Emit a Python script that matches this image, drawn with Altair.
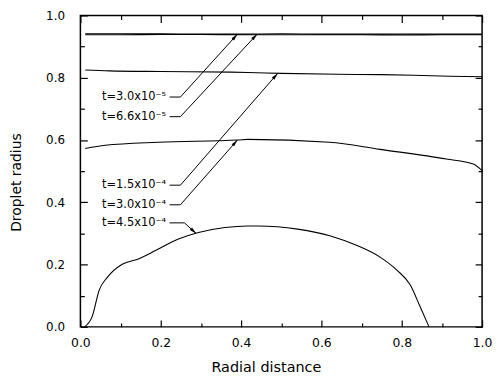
import math
import altair as alt
import pandas as pd

# ---------------- data ----------------
x_t1 = [0.012, 0.1, 0.2, 0.3, 0.4, 0.5, 0.6, 0.7, 0.8, 0.9, 1.0]
y_t1 = [0.941, 0.941, 0.941, 0.940, 0.940, 0.941, 0.940, 0.940, 0.940, 0.940, 0.940]   # t=3.0x10^-5

x_t2 = [0.012, 0.1, 0.2, 0.3, 0.4, 0.5, 0.6, 0.7, 0.8, 0.9, 1.0]
y_t2 = [0.938, 0.938, 0.939, 0.939, 0.938, 0.938, 0.938, 0.938, 0.937, 0.938, 0.938]   # t=6.6x10^-5

x_t3 = [0.012, 0.072, 0.2, 0.375, 0.417, 0.5, 0.64, 0.75, 0.829, 0.92, 1.0]
y_t3 = [0.825, 0.822, 0.820, 0.818, 0.817, 0.814, 0.811, 0.810, 0.808, 0.805, 0.803]   # t=1.5x10^-4

x_t4 = [0.012, 0.062, 0.195, 0.393, 0.417, 0.62, 0.746, 0.911, 0.978, 1.0]
y_t4 = [0.573, 0.583, 0.593, 0.600, 0.602, 0.593, 0.570, 0.539, 0.523, 0.502]         # t=3.0x10^-4

x_t5 = [0.010, 0.029, 0.047, 0.067, 0.104, 0.146, 0.187, 0.244, 0.294, 0.360, 0.417,
        0.442, 0.541, 0.623, 0.689, 0.746, 0.788, 0.821, 0.845, 0.868]
y_t5 = [0.000, 0.032, 0.119, 0.159, 0.201, 0.219, 0.245, 0.282, 0.303, 0.319, 0.324,
        0.324, 0.314, 0.292, 0.261, 0.224, 0.182, 0.135, 0.067, 0.000]                 # t=4.5x10^-4

labels = ["t=3.0x10⁻⁵", "t=6.6x10⁻⁵", "t=1.5x10⁻⁴", "t=3.0x10⁻⁴", "t=4.5x10⁻⁴"]
label_x = [0.054, 0.054, 0.054, 0.054, 0.054]
label_y = [0.738, 0.675, 0.455, 0.392, 0.334]
leader_x0 = [0.222, 0.222, 0.222, 0.222, 0.222]
leader_x1 = [0.249, 0.249, 0.249, 0.249, 0.259]
tip_x = [0.391, 0.440, 0.491, 0.391, 0.288]
tip_y = [0.940, 0.940, 0.814, 0.600, 0.300]

major_ticks = [0.0, 0.2, 0.4, 0.6, 0.8, 1.0]
minor_ticks = [0.1, 0.3, 0.5, 0.7, 0.9]

# ---------------- tables ----------------
def curve_table(series):
    rows = []
    for name, xs, ys in series:
        for i, (xv, yv) in enumerate(zip(xs, ys)):
            rows.append({"s": name, "i": i, "x": xv, "y": yv})
    return pd.DataFrame(rows)

curves_upper = curve_table([("a", x_t1, y_t1), ("b", x_t2, y_t2), ("c", x_t3, y_t3)])
curves_lower = curve_table([("d", x_t4, y_t4), ("e", x_t5, y_t5)])

W, H = 405, 314
arrow_rows, head_rows = [], []
for k in range(len(labels)):
    pts = [(leader_x0[k], label_y[k]), (leader_x1[k], label_y[k]), (tip_x[k], tip_y[k])]
    for i, (xv, yv) in enumerate(pts):
        arrow_rows.append({"a": k, "i": i, "x": xv, "y": yv})
    dx = (tip_x[k] - leader_x1[k]) * W
    dy = (tip_y[k] - label_y[k]) * H
    ang = math.degrees(math.atan2(dx, dy)) % 360
    head_rows.append({"x": tip_x[k], "y": tip_y[k], "ang": ang})
arrows = pd.DataFrame(arrow_rows)
heads = pd.DataFrame(head_rows)
texts = pd.DataFrame({"x": label_x, "y": label_y, "t": labels})

# ---------------- axes ----------------
FONT = "DejaVu Sans"
sc = alt.Scale(domain=[0, 1], nice=False, zero=False)

def tick_axis(orient, values, size):
    # inward ticks: an axis without labels, shifted into the plot by its tick length
    return alt.Axis(orient=orient, values=values, labels=False, title=None, domain=False,
                    grid=False, ticks=True, tickSize=size, offset=-size,
                    tickColor="black", tickWidth=1.2)

x_labels = alt.Axis(orient="bottom", values=major_ticks, format=".1f", ticks=False, domain=False,
                    grid=False, labelFont=FONT, labelFontSize=12.5, labelColor="black",
                    labelPadding=10, labelFlush=False, labelOverlap=False,
                    title="Radial distance", titleFont=FONT, titleFontSize=14.5,
                    titleFontWeight="normal", titleColor="black", titleX=187, titleY=45,
                    titleBaseline="alphabetic", titleAlign="center")
y_labels = alt.Axis(orient="left", values=major_ticks, format=".1f", ticks=False, domain=False,
                    grid=False, labelFont=FONT, labelFontSize=12, labelColor="black",
                    labelPadding=16, labelFlush=False, labelOverlap=False,
                    title="Droplet radius", titleFont=FONT, titleFontSize=14,
                    titleFontWeight="normal", titleColor="black", titleX=-60, titleY=168,
                    titleAngle=270, titleBaseline="alphabetic", titleAlign="center")

# ---------------- layers ----------------
upper = alt.Chart(curves_upper).mark_line(color="black", strokeWidth=1.1, interpolate="monotone").encode(
    x=alt.X("x:Q", scale=sc, axis=x_labels),
    y=alt.Y("y:Q", scale=sc, axis=y_labels),
    detail="s:N", order="i:Q",
)
lower = alt.Chart(curves_lower).mark_line(color="black", strokeWidth=1.1, interpolate="monotone").encode(
    x=alt.X("x:Q", scale=sc, axis=tick_axis("bottom", major_ticks, 7)),
    y=alt.Y("y:Q", scale=sc, axis=tick_axis("left", major_ticks, 7)),
    detail="s:N", order="i:Q",
)
text_layer = alt.Chart(texts).mark_text(align="left", baseline="middle", font=FONT,
                                        fontSize=11.5, color="black").encode(
    x=alt.X("x:Q", scale=sc, axis=tick_axis("bottom", minor_ticks, 4)),
    y=alt.Y("y:Q", scale=sc, axis=tick_axis("left", minor_ticks, 4)),
    text="t:N",
)
arrow_layer = alt.Chart(arrows).mark_line(color="black", strokeWidth=1.0).encode(
    x=alt.X("x:Q", scale=sc, axis=tick_axis("top", major_ticks, 7)),
    y=alt.Y("y:Q", scale=sc, axis=tick_axis("right", major_ticks, 7)),
    detail="a:N", order="i:Q",
)
head_layer = alt.Chart(heads).mark_point(
    shape="M0,0L0.24,1L-0.24,1Z", size=196, filled=True, color="black", opacity=1
).encode(
    x=alt.X("x:Q", scale=sc, axis=tick_axis("top", minor_ticks, 4)),
    y=alt.Y("y:Q", scale=sc, axis=tick_axis("right", minor_ticks, 4)),
    angle=alt.Angle("ang:Q", scale=None),
)

chart = alt.layer(upper, lower, text_layer, arrow_layer, head_layer).resolve_axis(
    x="independent", y="independent"
).properties(
    width=W, height=H,
    autosize=alt.AutoSizeParams(type="none"),
    padding={"left": 73, "top": 6, "right": 10, "bottom": 46},
    background="white",
).configure_view(stroke="black", strokeWidth=1.5)

chart.save("out.html", embed_options={"renderer": "svg", "actions": False})
